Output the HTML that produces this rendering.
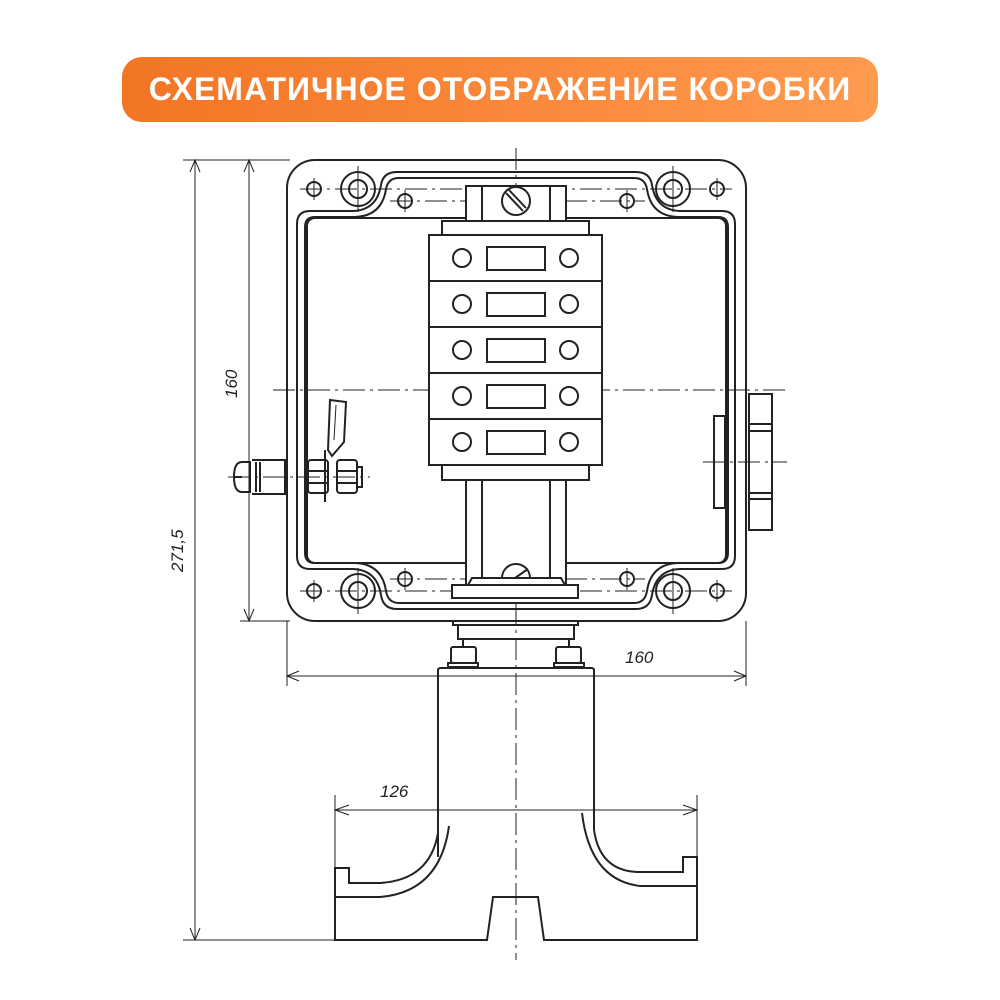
<!DOCTYPE html>
<html><head><meta charset="utf-8"><style>
html,body{margin:0;padding:0;background:#fff;}
.t{position:absolute;left:122px;top:57px;width:756px;height:65px;border-radius:20px;background:linear-gradient(90deg,#f27524,#ff9a4f);color:#fff;font:bold 32px "Liberation Sans","DejaVu Sans",sans-serif;letter-spacing:1px;text-align:center;line-height:65px;}
svg{position:absolute;left:0;top:0;}
</style></head><body>
<div class="t">СХЕМАТИЧНОЕ ОТОБРАЖЕНИЕ КОРОБКИ</div>
<svg width="1000" height="1000" viewBox="0 0 1000 1000" fill="none" stroke="#222" stroke-width="2">
<g stroke-width="1" stroke-dasharray="22,5,3,5">
<line x1="516" y1="148" x2="516" y2="960"/>
<line x1="273" y1="390" x2="790" y2="390"/>
<line x1="703" y1="462" x2="787" y2="462"/>
<line x1="228" y1="477" x2="370" y2="477"/>
<line x1="300" y1="189" x2="732" y2="189"/>
<line x1="300" y1="591" x2="732" y2="591"/>
<line x1="390" y1="201" x2="645" y2="201"/>
<line x1="390" y1="579" x2="645" y2="579"/>
</g>
<rect x="287" y="160" width="459" height="461" rx="28"/>
<path d="M397 172 H636 Q650 172 652 185 Q656 210 680 211 H722 Q735 211 735 224 V556 Q735 569 722 569 H680 Q656 570 652 595 Q650 609 636 609 H397 Q383 609 381 595 Q377 570 353 569 H310 Q297 569 297 556 V224 Q297 211 310 211 H353 Q377 210 381 185 Q383 172 397 172 Z"/>
<path d="M399 178 H634 Q645 178 647 189 Q651 216 678 217 H718 Q728 217 728 227 V553 Q728 563 718 563 H678 Q651 564 647 591 Q645 603 634 603 H399 Q388 603 386 591 Q382 564 355 563 H315 Q305 563 305 553 V227 Q305 217 315 217 H355 Q382 216 386 189 Q388 178 399 178 Z"/>
<rect x="307" y="218" width="419" height="345" rx="8"/>
<g>
<circle cx="358" cy="189" r="17"/><circle cx="358" cy="189" r="9"/>
<circle cx="673" cy="189" r="17"/><circle cx="673" cy="189" r="9"/>
<circle cx="358" cy="591" r="17"/><circle cx="358" cy="591" r="9"/>
<circle cx="673" cy="591" r="17"/><circle cx="673" cy="591" r="9"/>
<circle cx="314" cy="189" r="7"/><circle cx="717" cy="189" r="7"/>
<circle cx="314" cy="591" r="7"/><circle cx="717" cy="591" r="7"/>
<circle cx="405" cy="201" r="7"/><circle cx="627" cy="201" r="7"/>
<circle cx="405" cy="579" r="7"/><circle cx="627" cy="579" r="7"/>
</g>
<g stroke-width="1">
<line x1="358" y1="166" x2="358" y2="212"/><line x1="673" y1="166" x2="673" y2="212"/>
<line x1="358" y1="568" x2="358" y2="614"/><line x1="673" y1="568" x2="673" y2="614"/>
<line x1="314" y1="178" x2="314" y2="200"/><line x1="717" y1="178" x2="717" y2="200"/>
<line x1="314" y1="580" x2="314" y2="602"/><line x1="717" y1="580" x2="717" y2="602"/>
<line x1="405" y1="190" x2="405" y2="212"/><line x1="627" y1="190" x2="627" y2="212"/>
<line x1="405" y1="568" x2="405" y2="590"/><line x1="627" y1="568" x2="627" y2="590"/>
</g>
<g fill="#fff">
<rect x="466" y="186" width="100" height="35"/>
<rect x="442" y="221" width="147" height="14"/>
<rect x="429" y="235" width="173" height="230"/>
<rect x="442" y="465" width="147" height="15"/>
<rect x="466" y="480" width="100" height="105"/>
</g>
<line x1="482" y1="186" x2="482" y2="221"/><line x1="550" y1="186" x2="550" y2="221"/>
<line x1="482" y1="480" x2="482" y2="585"/><line x1="550" y1="480" x2="550" y2="585"/>
<circle cx="516" cy="201" r="14" fill="#fff"/>
<line x1="506" y1="193" x2="523" y2="211"/><line x1="509" y1="190" x2="526" y2="208"/>
<line x1="429" y1="281" x2="602" y2="281"/><line x1="429" y1="327" x2="602" y2="327"/>
<line x1="429" y1="373" x2="602" y2="373"/><line x1="429" y1="419" x2="602" y2="419"/>
<g>
<circle cx="462" cy="258" r="9"/><circle cx="569" cy="258" r="9"/><rect x="487" y="247" width="58" height="23"/>
<circle cx="462" cy="304" r="9"/><circle cx="569" cy="304" r="9"/><rect x="487" y="293" width="58" height="23"/>
<circle cx="462" cy="350" r="9"/><circle cx="569" cy="350" r="9"/><rect x="487" y="339" width="58" height="23"/>
<circle cx="462" cy="396" r="9"/><circle cx="569" cy="396" r="9"/><rect x="487" y="385" width="58" height="23"/>
<circle cx="462" cy="442" r="9"/><circle cx="569" cy="442" r="9"/><rect x="487" y="431" width="58" height="23"/>
</g>
<path d="M502 578 A14 14 0 0 1 530 578" fill="#fff"/>
<line x1="515" y1="578" x2="528" y2="569"/>
<path d="M468 585 L472 578 H561 L565 585" fill="#fff"/>
<rect x="452" y="585" width="126" height="13" fill="#fff"/>
<path d="M252 460 H285 V494 H252"/>
<line x1="256" y1="462" x2="256" y2="492"/><line x1="260" y1="462" x2="260" y2="492"/>
<path d="M250 462 H242 Q234 462 234 477 Q234 492 242 492 H250 Z"/>
<line x1="234" y1="477" x2="242" y2="477"/>
<rect x="308" y="460" width="20" height="33" rx="3"/>
<rect x="337" y="460" width="20" height="33" rx="3"/>
<line x1="308" y1="471" x2="328" y2="471"/><line x1="308" y1="483" x2="328" y2="483"/>
<line x1="337" y1="471" x2="357" y2="471"/><line x1="337" y1="483" x2="357" y2="483"/>
<rect x="357" y="467" width="5" height="20"/>
<line x1="325" y1="450" x2="325" y2="502"/>
<path d="M330 400 L346 402 L344 442 L332 456 L328 450 Z"/>
<line x1="336" y1="405" x2="334" y2="440" stroke-width="1"/>
<rect x="714" y="416" width="11" height="92"/>
<rect x="749" y="394" width="23" height="136"/>
<line x1="749" y1="424" x2="772" y2="424"/><line x1="749" y1="431" x2="772" y2="431"/>
<line x1="749" y1="493" x2="772" y2="493"/><line x1="749" y1="499" x2="772" y2="499"/>
<rect x="453" y="621" width="125" height="4"/>
<rect x="458" y="625" width="116" height="14"/>
<line x1="463" y1="639" x2="463" y2="647"/><line x1="569" y1="639" x2="569" y2="647"/>
<rect x="451" y="647" width="25" height="16" rx="2"/><rect x="556" y="647" width="25" height="16" rx="2"/>
<rect x="448" y="663" width="30" height="4"/><rect x="554" y="663" width="30" height="4"/>
<path d="M438 857 V670 Q438 668 441 668 H591 Q594 668 594 670 V830"/>
<path d="M438 833 Q430 880 380 883 H349 V868 H335 V940 H487 L493 897 H538 L544 940 H697 V857 H683 V872 H640 Q600 872 594 830"/>
<path d="M449 826 Q440 892 380 897 H335"/>
<path d="M582 813 Q590 880 640 886 H697"/>
<g stroke-width="1">
<line x1="183" y1="160" x2="290" y2="160"/>
<line x1="240" y1="621" x2="290" y2="621"/>
<line x1="183" y1="940" x2="335" y2="940"/>
<line x1="195" y1="160" x2="195" y2="940"/>
<line x1="249" y1="160" x2="249" y2="621"/>
<line x1="287" y1="621" x2="287" y2="686"/>
<line x1="746" y1="621" x2="746" y2="686"/>
<line x1="287" y1="676" x2="746" y2="676"/>
<line x1="335" y1="795" x2="335" y2="868"/>
<line x1="697" y1="795" x2="697" y2="857"/>
<line x1="335" y1="810" x2="697" y2="810"/>
<path d="M190 172 L195 160 L200 172 M190 928 L195 940 L200 928 M244 172 L249 160 L254 172 M244 609 L249 621 L254 609 M299 671 L287 676 L299 681 M734 671 L746 676 L734 681 M349 805 L335 810 L349 815 M683 805 L697 810 L683 815"/>
</g>
<g font-family="Liberation Sans, sans-serif" font-style="italic" font-size="17" fill="#222" stroke="none">
<text x="625" y="663">160</text>
<text x="380" y="797">126</text>
<text transform="translate(237,398) rotate(-90)">160</text>
<text transform="translate(183,572) rotate(-90)">271,5</text>
</g>
</svg>
</body></html>
